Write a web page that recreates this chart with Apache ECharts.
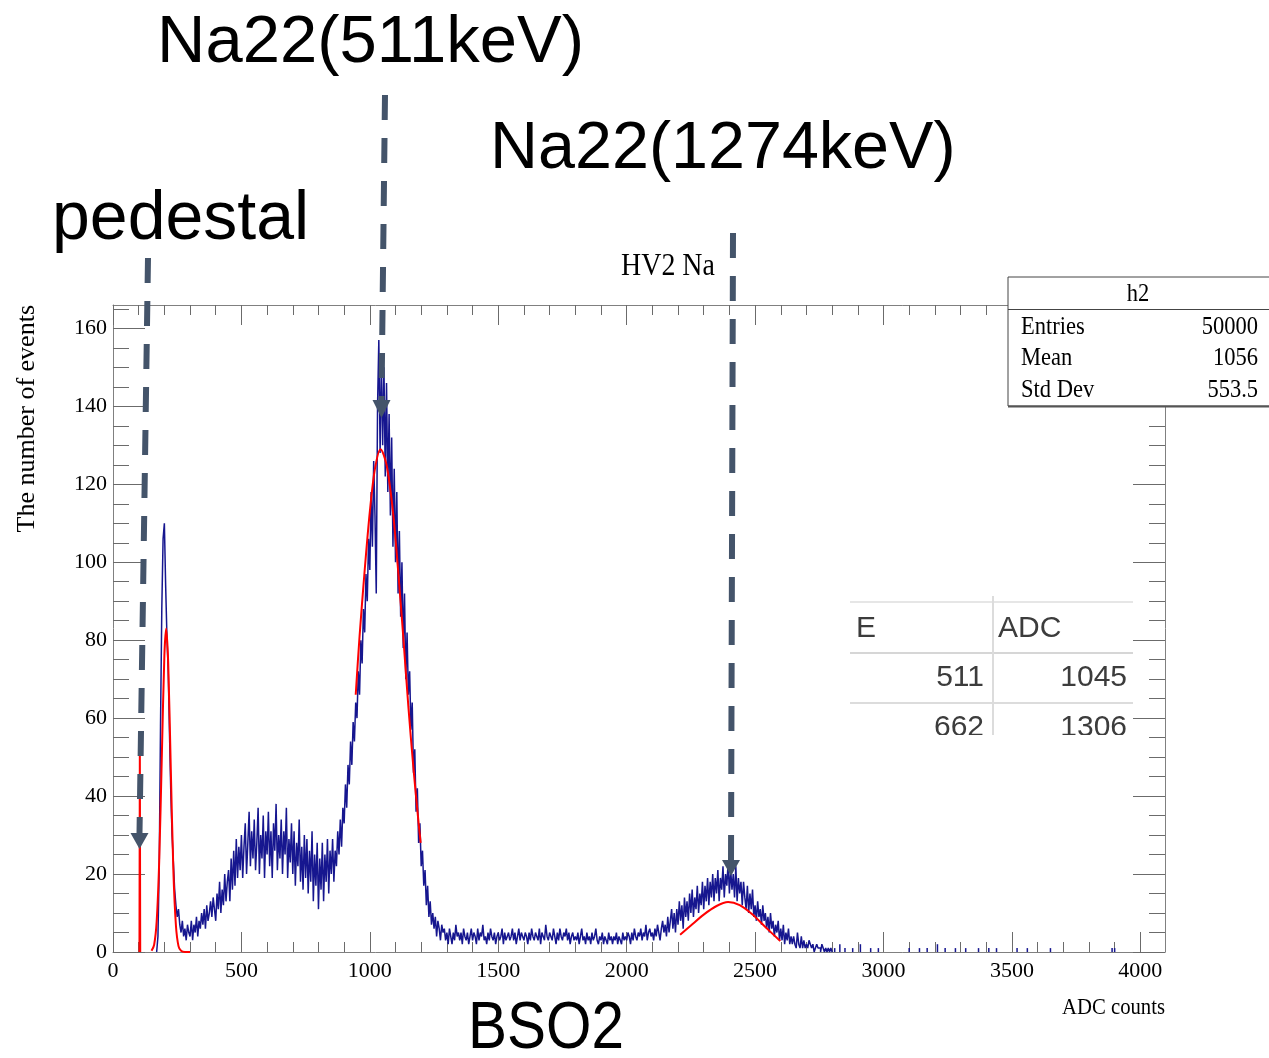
<!DOCTYPE html>
<html><head><meta charset="utf-8">
<script src="https://cdn.jsdelivr.net/npm/echarts@6/dist/echarts.min.js"></script>
<style>html,body{margin:0;padding:0;background:#fff}#c{width:1269px;height:1058px}</style>
</head><body><div id="c"></div>
<script>
// ---- histogram data (ADC bins of width 5 starting at 170) ----
const binStart = 170;
const binWidth = 5;
const counts = [
  0,4,22,58,88,106,
  110,94,81,72,56,41,30,23,16,12,
  9,11,7,5,8,4,6,3,7,5,
  4,8,3,7,5,9,4,8,6,10,
  7,11,6,12,8,10,13,9,14,11,
  8,15,11,18,10,16,12,20,13,18,
  21,13,24,16,26,17,29,19,27,21,
  30,19,27,33,20,28,36,22,31,24,
  34,21,28,37,20,30,24,35,19,31,
  25,36,22,31,19,33,26,38,21,30,
  24,34,20,31,25,37,19,29,23,33,
  20,31,17,28,22,34,18,27,16,30,
  19,29,15,26,18,31,13,25,17,28,
  11,24,16,28,13,25,18,29,15,26,
  20,29,18,26,22,31,25,34,27,37,
  33,43,37,48,43,54,48,59,54,64,
  60,72,66,80,74,88,82,97,90,106,
  98,118,104,126,112,92,140,157,128,152,
  130,150,122,146,118,138,112,132,104,124,
  100,118,92,108,86,100,78,92,70,82,
  66,72,57,64,46,52,36,42,28,33,
  22,26,17,21,12,17,9,13,7,10,
  6,9,4,8,6,3,7,5,6,3,
  5,2,6,4,2,5,3,7,4,5,
  3,5,2,6,4,3,5,2,4,6,
  3,5,4,2,6,3,5,4,7,3,
  4,2,5,3,6,4,3,5,2,4,
  5,3,4,6,2,5,3,4,5,3,
  4,6,3,5,2,4,6,3,5,4,
  3,5,4,2,5,3,6,4,3,5,
  4,3,6,2,5,4,3,7,4,3,
  5,4,3,6,4,2,5,3,6,4,
  3,5,4,6,3,5,2,4,5,3,
  4,3,5,2,4,6,3,4,2,5,
  3,4,2,5,3,4,6,3,2,4,
  3,5,2,4,3,2,5,3,4,2,
  4,3,5,2,4,3,2,5,3,4,
  3,5,4,2,5,3,6,4,3,5,
  4,6,3,5,4,7,3,5,6,4,
  5,3,6,4,7,5,3,6,8,5,
  7,4,9,5,8,11,6,10,5,11,
  7,13,8,12,6,14,9,13,8,15,
  10,16,9,14,11,17,10,15,12,18,
  11,17,13,19,12,18,14,20,13,19,
  15,21,13,19,16,22,14,20,17,23,
  15,21,16,20,14,22,13,19,15,18,
  12,18,14,11,17,10,15,11,16,9,
  12,8,13,9,11,7,12,8,10,6,
  9,5,10,6,8,4,7,5,8,3,
  6,3,7,2,5,3,6,2,4,2,
  4,2,1,5,2,1,4,1,3,1,
  2,1,3,2,1,2,0,1,2,1,
  1,0,2,1,0,1,0,1,0,1
];
// sparse single-count entries in the high-ADC tail
const tailSpikes = [[2810,1],[2830,2],[2850,1],[2880,1],[2910,2],[2950,1],[2980,1],[3100,1],[3140,1],[3170,1],[3210,2],[3240,1],[3280,1],[3320,1],[3370,1],[3410,1],[3440,1],[3520,1],[3560,1],[3650,1],[3890,1],[3900,1]];

// ---- fitted curves ----
const fitPedestal = [[103,0],[104.5,52],[106,0]];
const fitPeak1 = [[150,0.3],[160,1.8],[170,7.8],[180,23.5],[190,50],[200,76],[207,83],[215,74],[225,47],[235,21],[245,6.8],[255,1.5],[265,0.3],[280,0],[300,0]];
const fitMain = [[945,66],[960,81],[980,98],[1000,113],[1020,124],[1042,129],[1065,125],[1090,113],[1110,98],[1130,81],[1150,63],[1170,47],[1190,33],[1198,28]];
const fitHigh = [[2208,4.4],[2250,6.8],[2300,9.6],[2350,11.8],[2395,12.8],[2440,12.0],[2490,9.6],[2540,6.4],[2598,2.8]];

// ---- axes ----
const xMajorTicks = [0,500,1000,1500,2000,2500,3000,3500,4000];
const yMajorTicks = [0,20,40,60,80,100,120,140,160];
const xMin = 0, xMax = 4096, yMin = 0, yMax = 166;

// ---- texts ----
const plotTitle = 'HV2 Na';
const xTitle = 'ADC counts';
const yTitle = 'The number of events';
const statsName = 'h2';
const statsRows = [['Entries','50000'],['Mean','1056'],['Std Dev','553.5']];
const tableHeader = ['E','ADC'];
const tableRows = [['511','1045'],['662','1306']];

const histData = counts.map((c,i)=>[binStart + i*binWidth, c]);
histData.push([binStart + counts.length*binWidth, 0]);

const xMinorTicks = []; for (let v=0; v<=4000; v+=100) xMinorTicks.push(v);
const yMinorTicks = []; for (let v=0; v<=165; v+=5) yMinorTicks.push(v);

const axisGrey = '#808080', tickGrey = '#6b6b6b';
const serif = 'Liberation Serif';
const plain = v => String(v);

function xAx(pos, ticks, len, labels, line) {
  return {type:'value', min:xMin, max:xMax, position:pos,
    axisLine:{show:line, onZero:false, lineStyle:{color:axisGrey,width:1}},
    axisTick:{show:true, inside:true, length:len, customValues:ticks, lineStyle:{color:tickGrey,width:1}},
    axisLabel:{show:labels, customValues:ticks, formatter:plain, margin:8, fontFamily:serif, fontSize:22, color:'#000'},
    splitLine:{show:false}};
}
function yAx(pos, ticks, len, labels, line) {
  return {type:'value', min:yMin, max:yMax, position:pos,
    axisLine:{show:line, onZero:false, lineStyle:{color:axisGrey,width:1}},
    axisTick:{show:true, inside:true, length:len, customValues:ticks, lineStyle:{color:tickGrey,width:1}},
    axisLabel:{show:labels, customValues:ticks, formatter:plain, margin:6, fontFamily:serif, fontSize:22, color:'#000'},
    splitLine:{show:false}};
}

const arrowColor = '#44546a';
function arrow(x1,y1,x2,y2,tipY,dashOff){
  return [
    {type:'line', z:110, shape:{x1:x1,y1:y1,x2:x2,y2:y2}, style:{stroke:arrowColor, lineWidth:6, lineDash:[25,18], lineDashOffset:dashOff||0}},
    {type:'polygon', z:110, shape:{points:[[x2-9,y2],[x2+9,y2],[x2,tipY]]}, style:{fill:arrowColor}}
  ];
}

const G = [];
// annotation texts
G.push({type:'text', z:120, x:157, y:44, scaleX:1.015, style:{text:'Na22(511keV)', fontFamily:'Liberation Sans', fontSize:66, fill:'#000', textAlign:'left', textVerticalAlign:'middle'}});
G.push({type:'text', z:120, x:490, y:150, scaleX:1.007, style:{text:'Na22(1274keV)', fontFamily:'Liberation Sans', fontSize:66, fill:'#000', textAlign:'left', textVerticalAlign:'middle'}});
G.push({type:'text', z:120, x:52, y:220, scaleX:1.0, style:{text:'pedestal', fontFamily:'Liberation Sans', fontSize:68, fill:'#000', textAlign:'left', textVerticalAlign:'middle'}});
G.push({type:'text', z:120, x:468, y:1030, scaleX:0.886, style:{text:'BSO2', fontFamily:'Liberation Sans', fontSize:66, fill:'#000', textAlign:'left', textVerticalAlign:'middle'}});
// chart titles
G.push({type:'text', z:90, x:668, y:267, scaleX:0.9, style:{text:plotTitle, fontFamily:serif, fontSize:31, fill:'#000', textAlign:'center', textVerticalAlign:'middle'}});
G.push({type:'text', z:90, x:1165, y:1008, scaleX:0.9, style:{text:xTitle, fontFamily:serif, fontSize:23, fill:'#000', textAlign:'right', textVerticalAlign:'middle'}});
G.push({type:'text', z:90, x:27, y:305, rotation:Math.PI/2, style:{text:yTitle, fontFamily:serif, fontSize:26, fill:'#000', textAlign:'right', textVerticalAlign:'middle'}});
// stats box
G.push({type:'rect', z:95, shape:{x:1008, y:277, width:275, height:129}, style:{fill:'#fff', stroke:'#444', lineWidth:1}});
G.push({type:'line', z:96, shape:{x1:1008,y1:406.5,x2:1269,y2:406.5}, style:{stroke:'#555', lineWidth:2}});
G.push({type:'line', z:96, shape:{x1:1008,y1:309.5,x2:1269,y2:309.5}, style:{stroke:'#444', lineWidth:1}});
G.push({type:'text', z:96, x:1138, y:294, scaleX:0.9, style:{text:statsName, fontFamily:serif, fontSize:25, fill:'#000', textAlign:'center', textVerticalAlign:'middle'}});
statsRows.forEach((r,i)=>{
  const y = 327 + i*31.5;
  G.push({type:'text', z:96, x:1021, y:y, scaleX:0.9, style:{text:r[0], fontFamily:serif, fontSize:25, fill:'#000', textAlign:'left', textVerticalAlign:'middle'}});
  G.push({type:'text', z:96, x:1258, y:y, scaleX:0.9, style:{text:r[1], fontFamily:serif, fontSize:25, fill:'#000', textAlign:'right', textVerticalAlign:'middle'}});
});
// pasted table
G.push({type:'rect', z:97, shape:{x:850, y:597, width:283, height:141}, style:{fill:'#fff'}});
G.push({type:'line', z:98, shape:{x1:850,y1:602,x2:1133,y2:602}, style:{stroke:'#e6e6e6', lineWidth:2}});
G.push({type:'line', z:98, shape:{x1:850,y1:653,x2:1133,y2:653}, style:{stroke:'#d6d6d6', lineWidth:2}});
G.push({type:'line', z:98, shape:{x1:850,y1:703,x2:1133,y2:703}, style:{stroke:'#dcdcdc', lineWidth:2}});
G.push({type:'line', z:98, shape:{x1:993,y1:596,x2:993,y2:736}, style:{stroke:'#dcdcdc', lineWidth:2}});
G.push({type:'text', z:99, x:856, y:629, style:{text:tableHeader[0], fontFamily:'Liberation Sans', fontSize:30, fill:'#3c3c3c', textAlign:'left', textVerticalAlign:'middle'}});
G.push({type:'text', z:99, x:998, y:629, style:{text:tableHeader[1], fontFamily:'Liberation Sans', fontSize:30, fill:'#3c3c3c', textAlign:'left', textVerticalAlign:'middle'}});
tableRows.forEach((r,i)=>{
  const y = 678 + i*50;
  G.push({type:'text', z:99, x:984, y:y, style:{text:r[0], fontFamily:'Liberation Sans', fontSize:30, fill:'#3c3c3c', textAlign:'right', textVerticalAlign:'middle'}});
  G.push({type:'text', z:99, x:1127, y:y, style:{text:r[1], fontFamily:'Liberation Sans', fontSize:30, fill:'#3c3c3c', textAlign:'right', textVerticalAlign:'middle'}});
});
G.push({type:'rect', z:100, shape:{x:850, y:735, width:283, height:18}, style:{fill:'#fff'}});
// arrows
G.push(...arrow(148,258,139.5,833,849,0));
G.push(...arrow(385,95,381.5,400,418,0));
G.push(...arrow(733,233,731,860,876,0));

const chart = echarts.init(document.getElementById('c'), null, {renderer:'canvas'});
chart.setOption({
  animation:false,
  backgroundColor:'#fff',
  grid:{left:113, right:104, top:305, bottom:106, containLabel:false},
  xAxis:[ xAx('bottom', xMajorTicks, 20, true, true), xAx('bottom', xMinorTicks, 10, false, false),
          xAx('top', xMajorTicks, 20, false, true), xAx('top', xMinorTicks, 10, false, false) ],
  yAxis:[ yAx('left', yMajorTicks, 32, true, true), yAx('left', yMinorTicks, 16, false, false),
          yAx('right', yMajorTicks, 32, false, true), yAx('right', yMinorTicks, 16, false, false) ],
  series:[
    {type:'line', name:'h2', data:histData, step:'end', symbol:'none', lineStyle:{color:'#16168f', width:1.5}, z:2},
    {type:'bar', name:'tail', data:tailSpikes, barWidth:1.5, itemStyle:{color:'#16168f'}, z:2},
    {type:'line', data:fitPedestal, symbol:'none', lineStyle:{color:'#ff0000', width:2}, z:3},
    {type:'line', data:fitPeak1, symbol:'none', smooth:0.3, lineStyle:{color:'#ff0000', width:2}, z:3},
    {type:'line', data:fitMain, symbol:'none', smooth:0.3, lineStyle:{color:'#ff0000', width:2}, z:3},
    {type:'line', data:fitHigh, symbol:'none', smooth:0.3, lineStyle:{color:'#ff0000', width:2}, z:3}
  ],
  graphic:{elements:G}
});
</script></body></html>
